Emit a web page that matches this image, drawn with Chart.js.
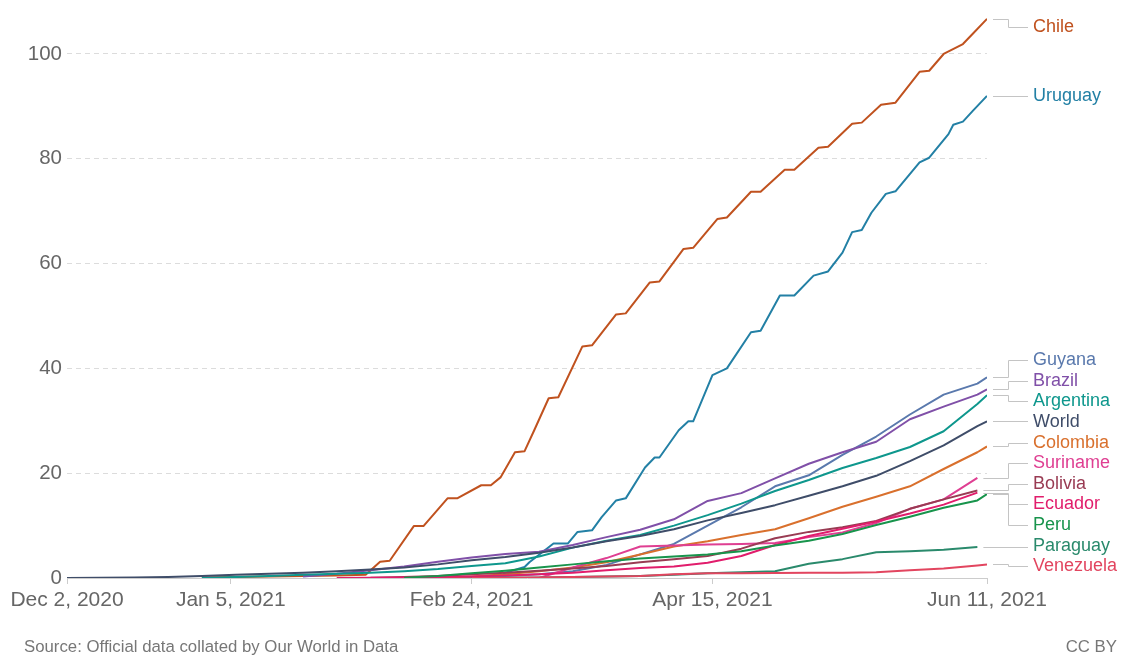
<!DOCTYPE html>
<html>
<head>
<meta charset="utf-8">
<script src="https://cdn.jsdelivr.net/npm/chart.js@4.4.1/dist/chart.umd.min.js"></script>
<style>
  html, body { margin: 0; padding: 0; background: #fff; }
  #wrap { position: relative; width: 1121px; height: 655px; }
  canvas { display: block; }
</style>
</head>
<body>
<div id="wrap"><canvas id="c" width="1121" height="655"></canvas></div>
<script>
// ---- DATA (days since Dec 2, 2020) ----
const tickDays = [0, 34, 84, 134, 191];
const tickLabels = ['Dec 2, 2020', 'Jan 5, 2021', 'Feb 24, 2021', 'Apr 15, 2021', 'Jun 11, 2021'];
const yTicks = [0, 20, 40, 60, 80, 100];

const weekDays = [0,7,14,21,28,35,42,49,56,63,70,77,84,91,98,105,112,119,126,133,140,147,154,161,168,175,182,189,191];

const chileDays = [28,35,42,49,56,62,65,67,72,74,79,81,86,88,90,93,95,97,100,102,107,109,114,116,121,123,128,130,135,137,142,144,149,151,156,158,163,165,169,172,177,179,182,186,188,191];
const chileValues = [0.1,0.2,0.3,0.4,0.5,0.6,3.1,3.3,9.9,9.9,15.2,15.2,17.7,17.7,19.2,24,24.2,28.2,34.3,34.5,44.2,44.4,50.3,50.5,56.4,56.6,62.8,63,68.5,68.8,73.7,73.7,77.9,77.9,82.1,82.3,86.7,86.9,90.3,90.7,96.6,96.8,100,101.9,103.8,106.7];

const uruguayDays = [88,90,91,95,96,101,104,106,109,111,114,116,120,122,123,127,129,130,134,137,142,144,148,151,155,158,161,163,165,167,170,172,177,179,183,184,186,188,191];
const uruguayValues = [0.1,0.2,1,2.1,3,6.6,6.6,8.8,9.1,11.6,14.8,15.2,21.1,23,23,28.2,29.9,29.9,38.7,40,46.9,47.2,53.9,53.9,57.7,58.5,62.1,66,66.4,69.7,73.3,73.8,79.3,80.2,84.7,86.5,87.1,89.1,92];

const _ = null;
const guyana    = [_,_,_,_,_,_,_,_,_,_,0.0,0.1,0.2,0.4,0.7,1.3,2.5,4.5,6.5,10.0,13.5,17.5,19.6,23.5,27.0,31.2,35.0,37.1,38.3];
const brazil    = [_,_,_,_,_,_,_,0.3,0.8,1.5,2.2,3.1,3.9,4.6,5.0,6.3,7.8,9.2,11.2,14.7,16.2,19.0,21.8,24.0,26.0,30.3,32.7,35.0,36.0];
const argentina = [_,_,_,_,0.02,0.2,0.4,0.6,0.8,1.0,1.3,1.7,2.3,2.8,4.1,5.8,7.1,8.2,10.0,12.0,14.2,16.6,18.7,21.0,22.9,25.0,28.0,33.2,34.9];
const world     = [0,0.03,0.1,0.2,0.4,0.6,0.8,1.0,1.3,1.6,2.0,2.6,3.4,4.0,4.8,5.8,7.0,8.0,9.3,11.0,12.4,13.9,15.7,17.5,19.5,22.3,25.3,29.0,29.9];
const colombia  = [_,_,_,_,_,_,_,_,_,_,_,0.0,0.3,0.7,1.3,2.0,3.0,4.5,6.0,7.0,8.2,9.3,11.4,13.6,15.5,17.5,20.8,24.0,25.1];
const suriname  = [_,_,_,_,_,_,_,_,_,_,_,_,_,_,0.0,2.0,3.8,6.0,6.2,6.4,6.5,6.7,7.8,8.7,10.5,13.2,15.0,19.1,_];
const bolivia   = [_,_,_,_,_,_,_,_,_,0.05,0.2,0.4,0.7,1.0,1.4,1.8,2.3,3.0,3.6,4.2,5.6,7.6,8.8,9.7,10.9,13.2,15.0,16.7,_];
const ecuador   = [_,_,_,_,_,_,_,_,0.0,0.05,0.1,0.2,0.3,0.5,0.7,1.0,1.5,1.9,2.2,2.9,4.2,6.3,8.0,9.4,10.8,12.3,14.0,16.3,_];
const peru      = [_,_,_,_,_,_,_,_,_,_,0.05,0.4,0.9,1.4,2.0,2.6,3.2,3.7,4.1,4.5,5.1,6.2,7.1,8.4,10.1,11.7,13.4,14.8,16.0];
const paraguay  = [_,_,_,_,_,_,_,_,_,_,_,_,0.0,0.05,0.1,0.2,0.3,0.4,0.6,0.9,1.1,1.3,2.7,3.6,4.9,5.1,5.4,5.9,_];
const venezuela = [_,_,_,_,_,_,_,_,_,_,_,_,0.0,0.05,0.1,0.2,0.3,0.4,0.7,0.9,0.9,0.95,1.0,1.0,1.1,1.5,1.8,2.4,2.6];

const seriesNames = ['World','Venezuela','Paraguay','Peru','Ecuador','Bolivia','Suriname','Colombia','Argentina','Brazil','Guyana','Uruguay','Chile'];
const seriesColors = {
  Chile: '#c0521f', Uruguay: '#2380a5', Guyana: '#5a79ad', Brazil: '#8050a8',
  Argentina: '#0e978d', World: '#3f4d69', Colombia: '#d9702d', Suriname: '#df3f92',
  Bolivia: '#993b53', Ecuador: '#e11d6c', Peru: '#18944c', Paraguay: '#2a8a6c', Venezuela: '#e2455f'
};

function pts(days, vals) { return days.map((d, i) => ({ x: d, y: vals[i] })); }
const seriesData = {
  Chile: pts(chileDays, chileValues),
  Uruguay: pts(uruguayDays, uruguayValues),
  Guyana: pts(weekDays, guyana), Brazil: pts(weekDays, brazil), Argentina: pts(weekDays, argentina),
  World: pts(weekDays, world), Colombia: pts(weekDays, colombia), Suriname: pts(weekDays, suriname),
  Bolivia: pts(weekDays, bolivia), Ecuador: pts(weekDays, ecuador), Peru: pts(weekDays, peru),
  Paraguay: pts(weekDays, paraguay), Venezuela: pts(weekDays, venezuela)
};

const FONT = '"Liberation Sans", Arial, Helvetica, sans-serif';

const endLabels = {
  id: 'endLabels',
  afterDatasetsDraw(chart) {
    const ctx = chart.ctx, area = chart.chartArea;
    const items = [];
    chart.data.datasets.forEach((ds, i) => {
      const meta = chart.getDatasetMeta(i);
      for (let j = meta.data.length - 1; j >= 0; j--) {
        if (ds.data[j].y !== null && ds.data[j].y !== undefined) {
          const p = meta.data[j];
          items.push({ x: p.x, y: p.y, label: ds.label, color: ds.borderColor });
          break;
        }
      }
    });
    items.sort((a, b) => a.y - b.y);
    const gap = 20.6;
    let blocks = items.map(it => ({ items: [it], top: it.y }));
    let changed = true;
    while (changed) {
      changed = false;
      for (let k = 0; k < blocks.length - 1; k++) {
        const a = blocks[k], b = blocks[k + 1];
        const aBottom = a.top + (a.items.length - 1) * gap;
        if (b.top - aBottom < gap) {
          const merged = a.items.concat(b.items);
          const mean = merged.reduce((s, it) => s + it.y, 0) / merged.length;
          blocks.splice(k, 2, { items: merged, top: mean - (merged.length - 1) * gap / 2 });
          changed = true;
          break;
        }
      }
    }
    blocks.forEach(b => b.items.forEach((it, k) => { it.ly = Math.max(b.top + k * gap, area.top + 10); }));
    ctx.save();
    ctx.strokeStyle = '#c4c4c4';
    ctx.lineWidth = 1;
    const elbowX = area.right + 21, endX = area.right + 41, textX = area.right + 46;
    items.forEach(it => {
      ctx.beginPath();
      ctx.moveTo(it.x + 6, Math.round(it.y) + 0.5);
      if (Math.abs(it.ly - it.y) < 1.5) {
        ctx.lineTo(endX, Math.round(it.y) + 0.5);
      } else {
        ctx.lineTo(elbowX + 0.5, Math.round(it.y) + 0.5);
        ctx.lineTo(elbowX + 0.5, Math.round(it.ly) + 0.5);
        ctx.lineTo(endX, Math.round(it.ly) + 0.5);
      }
      ctx.stroke();
      ctx.fillStyle = it.color;
      ctx.font = '18px ' + FONT;
      ctx.textBaseline = 'middle';
      ctx.textAlign = 'left';
      ctx.fillText(it.label, textX, it.ly);
    });
    ctx.restore();
  },
  afterDraw(chart) {
    const ctx = chart.ctx;
    ctx.save();
    ctx.fillStyle = '#777';
    ctx.font = '16.8px ' + FONT;
    ctx.textBaseline = 'middle';
    ctx.textAlign = 'left';
    ctx.fillText('Source: Official data collated by Our World in Data', 24, 647);
    ctx.textAlign = 'right';
    ctx.fillText('CC BY', 1117, 647);
    ctx.restore();
  }
};

new Chart(document.getElementById('c'), {
  type: 'line',
  data: {
    datasets: seriesNames.map(n => ({
      label: n,
      data: seriesData[n],
      borderColor: seriesColors[n],
      backgroundColor: seriesColors[n],
      borderWidth: 2,
      pointRadius: 0,
      tension: 0,
      spanGaps: false,
      fill: false,
      borderJoinStyle: 'round'
    }))
  },
  options: {
    responsive: false,
    animation: false,
    devicePixelRatio: 1,
    layout: { padding: { top: 16, right: 134, bottom: 0, left: 0 } },
    plugins: { legend: { display: false }, tooltip: { enabled: false } },
    scales: {
      x: {
        type: 'linear',
        min: 0, max: 191,
        afterBuildTicks: s => { s.ticks = tickDays.map(v => ({ value: v })); },
        afterFit: s => { s.height = 77; },
        ticks: {
          autoSkip: false, maxRotation: 0, minRotation: 0,
          color: '#666', font: { family: FONT, size: 21 }, padding: 4,
          callback: (v) => tickLabels[tickDays.indexOf(v)]
        },
        grid: { drawOnChartArea: false, drawTicks: true, tickLength: 6, tickColor: '#cccccc' },
        border: { display: true, color: '#cccccc', width: 1 }
      },
      y: {
        min: 0, max: 107,
        afterBuildTicks: s => { s.ticks = yTicks.map(v => ({ value: v })); },
        afterFit: s => { s.width = 67; },
        ticks: { color: '#666', font: { family: FONT, size: 20.5 }, padding: 5, callback: v => String(v) },
        grid: {
          drawTicks: false,
          color: c => (c.tick && c.tick.value === 0) ? 'rgba(0,0,0,0)' : '#dcdcdc',
          lineWidth: 1
        },
        border: { display: false, dash: [5, 4] }
      }
    }
  },
  plugins: [endLabels]
});
</script>
</body>
</html>
